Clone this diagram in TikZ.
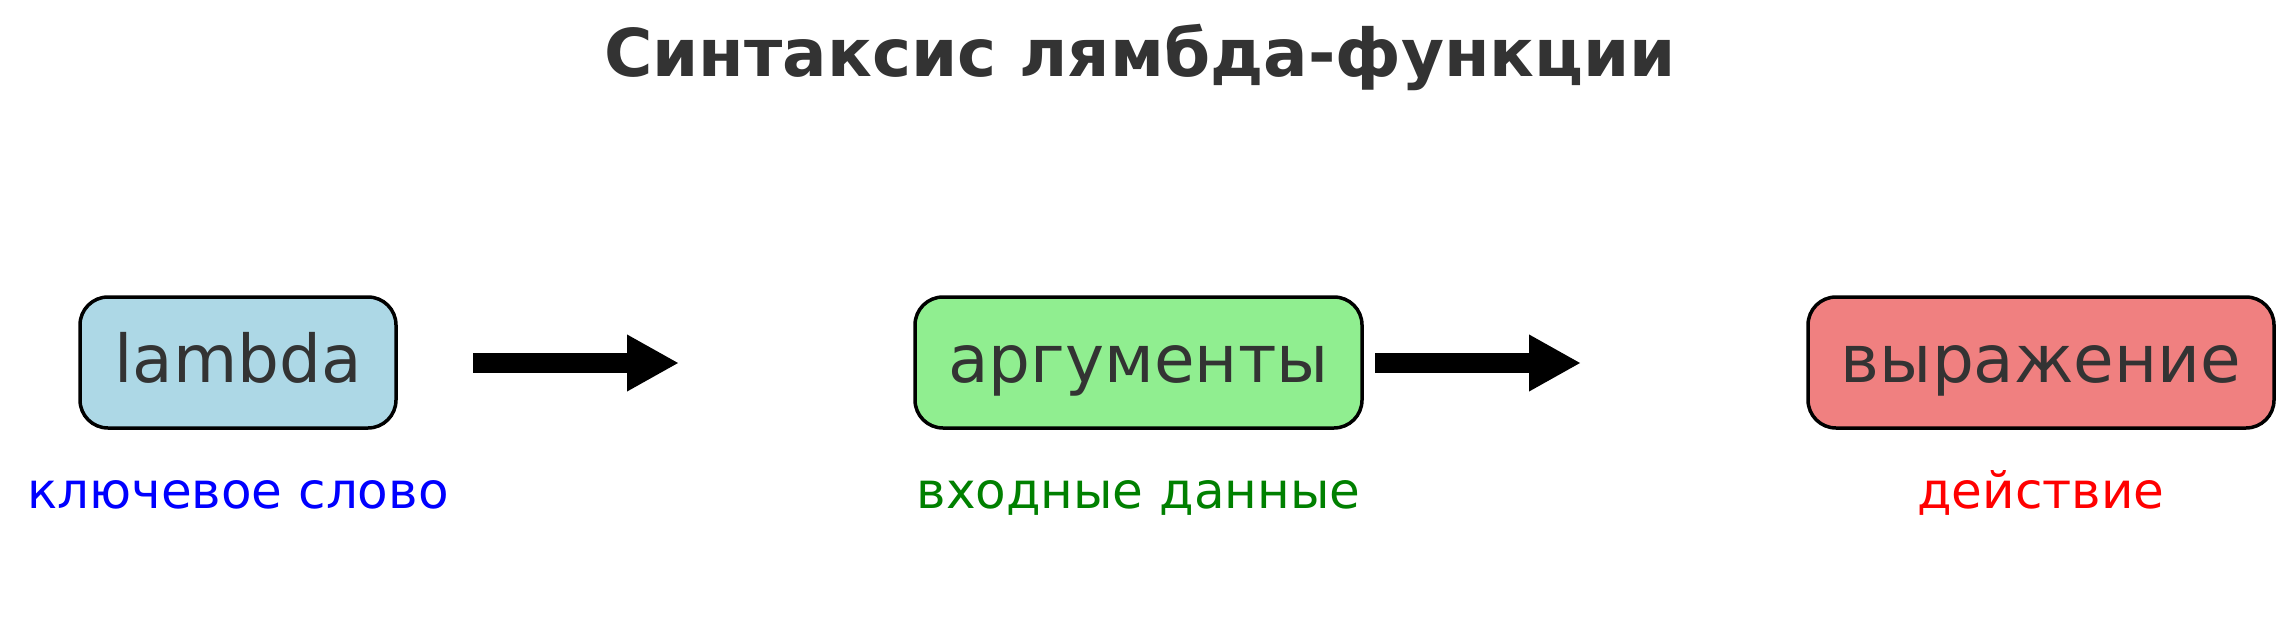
\documentclass[tikz,border=0pt]{standalone}
\usepackage{fontspec}
\setmainfont{DejaVu Sans}
\usetikzlibrary{arrows.meta}
\definecolor{txtgray}{HTML}{333333}
\definecolor{lblue}{HTML}{ADD8E6}
\definecolor{lgreen}{HTML}{90EE90}
\definecolor{lcoral}{HTML}{F08080}
\definecolor{dgreen}{HTML}{008000}
\tikzset{
  boxnode/.style={draw=black, line width=3.5pt, rounded corners=28pt, minimum height=131pt, inner sep=0pt},
  boxtext/.style={anchor=base, inner sep=0pt, text=txtgray, font=\fontsize{66}{79}\selectfont},
  lbl/.style={anchor=base, inner sep=0pt, font=\fontsize{50}{60}\selectfont},
  bigarrow/.style={line width=20pt, -{Triangle[length=52pt,width=53pt]}, black}
}
\begin{document}
\begin{tikzpicture}[x=1pt,y=-1pt]
\useasboundingbox (0,0) rectangle (2292,626);
\node[anchor=base, inner sep=0pt, text=txtgray, font=\fontsize{66}{79}\selectfont\bfseries] (title) at (1140,77) {Синтаксис лямбда-функции};
\node[boxnode, fill=lblue, minimum width=316pt] (b1) at (238,362.5) {};
\node[boxnode, fill=lgreen, minimum width=447pt] (b2) at (1138.5,362.5) {};
\node[boxnode, fill=lcoral, minimum width=466pt] (b3) at (2041,362.5) {};
\node[boxtext] (t1) at (238,382) {lambda};
\node[boxtext] (t2) at (1138.5,382) {аргументы};
\node[boxtext] (t3) at (2041,382) {выражение};
\node[lbl, text=blue] (l1) at (238,508) {ключевое слово};
\node[lbl, text=dgreen] (l2) at (1138.5,508) {входные данные};
\node[lbl, text=red] (l3) at (2041,508) {действие};
\coordinate (a1s) at (473,363);
\coordinate (a1e) at (679,363);
\coordinate (a2s) at (1375,363);
\coordinate (a2e) at (1581,363);
\draw[bigarrow] (a1s) -- (a1e);
\draw[bigarrow] (a2s) -- (a2e);
\end{tikzpicture}
\end{document}
